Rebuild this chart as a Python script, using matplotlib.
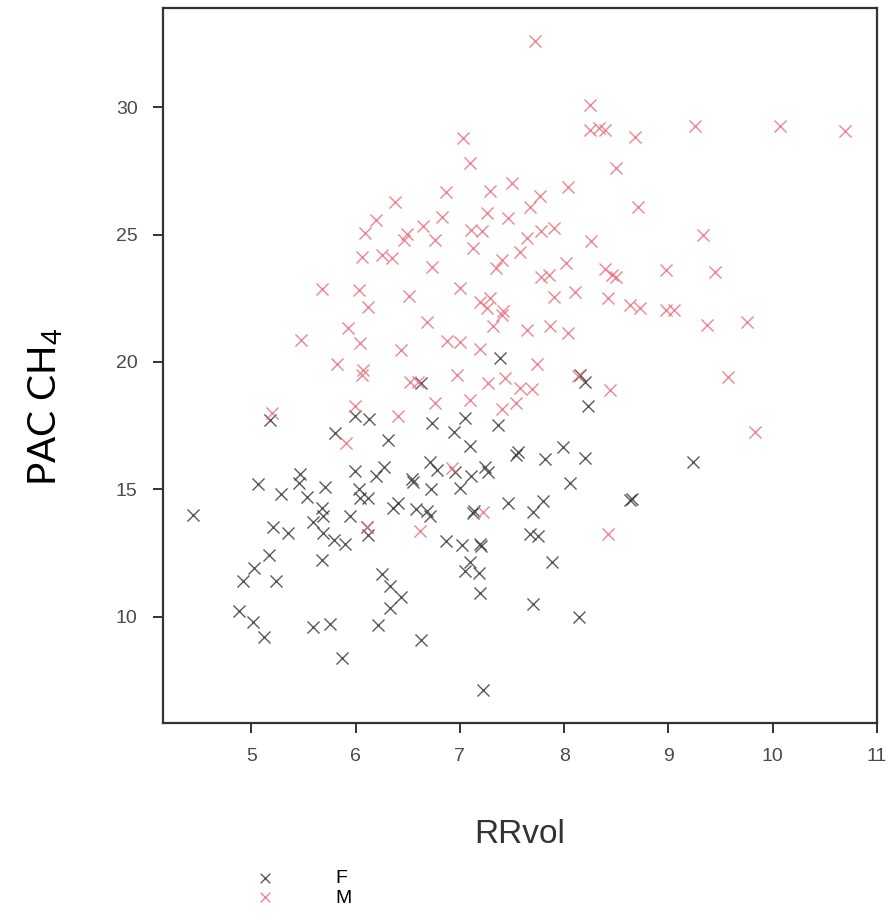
import numpy as np
import matplotlib
matplotlib.use("Agg")
import matplotlib.pyplot as plt

# PAC CH4 against RRvol, split by sex
f_rrvol = [4.44, 5.06, 5.28, 5.47, 5.46, 5.53, 5.71, 6.03, 6.12, 6.04,
           5.68, 5.69, 5.59, 5.21, 5.35, 5.95, 6.11, 6.12, 5.79, 5.90,
           5.69, 6.36, 6.41, 6.58, 6.71, 6.68, 6.72, 6.87, 6.54, 6.55,
           5.17, 5.03, 4.92, 5.24, 5.68, 6.25, 6.33, 6.44, 6.33, 4.88,
           5.02, 5.12, 5.59, 5.75, 6.21, 6.63, 5.87, 5.18, 5.99, 6.13,
           6.63, 6.73, 5.80, 6.31, 6.20, 6.27, 6.71, 6.78, 5.99, 8.15,
           8.20, 8.23, 7.05, 6.94, 7.37, 7.10, 7.54, 7.56, 7.82, 7.99,
           8.20, 6.95, 7.24, 7.27, 7.11, 7.00, 8.06, 8.63, 8.65, 7.46,
           7.70, 7.80, 7.13, 7.14, 7.67, 7.75, 7.02, 7.19, 7.20, 7.10,
           7.05, 7.18, 7.88, 7.19, 7.70, 8.14, 7.22, 7.38, 9.24]
f_pac = [13.99, 15.21, 14.80, 15.60, 15.25, 14.71, 15.10, 15.01, 14.66, 14.66,
         14.26, 13.93, 13.70, 13.52, 13.27, 13.93, 13.53, 13.21, 13.01, 12.84,
         13.27, 14.26, 14.45, 14.23, 13.93, 14.15, 15.01, 12.95, 15.40, 15.29,
         12.42, 11.90, 11.41, 11.41, 12.23, 11.68, 11.18, 10.76, 10.33, 10.20,
         9.80, 9.19, 9.57, 9.70, 9.65, 9.09, 8.37, 17.72, 17.88, 17.76,
         19.16, 17.59, 17.20, 16.94, 15.52, 15.89, 16.07, 15.76, 15.72, 19.49,
         19.23, 18.25, 17.79, 17.26, 17.53, 16.70, 16.35, 16.47, 16.18, 16.66,
         16.22, 15.68, 15.89, 15.69, 15.50, 15.04, 15.25, 14.58, 14.62, 14.45,
         14.12, 14.52, 14.06, 14.15, 13.25, 13.17, 12.82, 12.86, 12.78, 12.16,
         11.77, 11.70, 12.16, 10.92, 10.50, 10.00, 7.10, 20.15, 16.05]

m_rrvol = [7.72, 8.25, 8.25, 8.33, 8.39, 8.68, 9.25, 10.07, 10.69, 7.03,
           7.10, 8.50, 8.04, 7.50, 7.29, 6.87, 7.77, 7.67, 7.26, 7.46,
           8.71, 9.33, 8.26, 7.11, 7.21, 7.78, 7.90, 7.64, 6.83, 6.38,
           6.20, 6.09, 6.49, 6.46, 6.65, 6.76, 6.06, 6.25, 6.35, 6.73,
           5.68, 6.03, 6.12, 6.51, 6.68, 5.48, 5.93, 6.04, 6.44, 5.82,
           6.07, 6.88, 7.00, 7.13, 7.58, 7.40, 7.35, 8.02, 7.78, 7.85,
           8.39, 8.46, 8.50, 8.98, 9.45, 7.00, 7.90, 8.10, 8.42, 8.63,
           8.73, 8.98, 9.05, 7.19, 7.29, 7.26, 7.40, 7.41, 7.32, 7.64,
           7.86, 8.04, 9.37, 9.75, 7.19, 7.74, 9.57, 9.83, 6.97, 7.27,
           7.43, 7.58, 7.69, 7.10, 7.54, 7.40, 8.44, 8.13, 5.20, 5.99,
           6.41, 6.06, 6.52, 6.60, 6.76, 5.91, 6.92, 7.22, 8.42, 6.11,
           6.62]
m_pac = [32.61, 30.09, 29.11, 29.18, 29.11, 28.85, 29.27, 29.27, 29.08, 28.78,
         27.80, 27.61, 26.87, 27.02, 26.71, 26.69, 26.52, 26.07, 25.84, 25.64,
         26.07, 24.99, 24.75, 25.18, 25.14, 25.16, 25.25, 24.86, 25.69, 26.29,
         25.58, 25.05, 25.03, 24.79, 25.34, 24.79, 24.13, 24.20, 24.07, 23.74,
         22.85, 22.83, 22.17, 22.59, 21.58, 20.86, 21.32, 20.73, 20.47, 19.92,
         19.69, 20.82, 20.77, 24.46, 24.33, 24.00, 23.68, 23.88, 23.32, 23.42,
         23.65, 23.42, 23.35, 23.61, 23.55, 22.89, 22.53, 22.76, 22.50, 22.24,
         22.11, 22.04, 22.04, 22.37, 22.50, 22.12, 21.85, 22.00, 21.41, 21.26,
         21.41, 21.13, 21.45, 21.58, 20.51, 19.92, 19.42, 17.26, 19.49, 19.16,
         19.36, 18.98, 18.94, 18.51, 18.38, 18.16, 18.90, 19.45, 17.99, 18.25,
         17.88, 19.49, 19.23, 19.23, 18.38, 16.81, 15.84, 14.12, 13.25, 13.53,
         13.34]

x_ticks = [5, 6, 7, 8, 9, 10, 11]
y_ticks = [10, 15, 20, 25, 30]

plt.rcParams['mathtext.fontset'] = 'custom'
plt.rcParams['mathtext.rm'] = 'Lato'

fig = plt.figure(figsize=(8.91, 9.17), dpi=100)
ax = fig.add_axes([0.1826, 0.2119, 0.8017, 0.7794])

ax.scatter(f_rrvol, f_pac, marker='x', s=75, linewidths=1.0, color='#3c3c3c', alpha=0.85, label='F')
ax.scatter(m_rrvol, m_pac, marker='x', s=75, linewidths=1.0, color='#e8707c', alpha=0.85, label='M')

ax.set_xlim(4.15, 11)
ax.set_ylim(5.83, 33.9)
ax.set_xticks(x_ticks)
ax.set_yticks(y_ticks)
for sp in ax.spines.values():
    sp.set_linewidth(1.6)
    sp.set_color('#333333')
ax.tick_params(direction='out', length=7, width=1.4, color='#333333',
               labelsize=14, labelcolor='#4a4a4a', pad=11)
for lab in ax.get_xticklabels() + ax.get_yticklabels():
    lab.set_family('Liberation Sans')

ax.set_xlabel('RRvol', fontsize=24, family='Liberation Sans', color='#333333')
ax.xaxis.set_label_coords(0.5, -0.135)
ax.set_ylabel('PAC CH$_\\mathrm{4}$', fontsize=28, family='Lato', color='black')
ax.yaxis.set_label_coords(-0.137, 0.442)

fig.legend(loc='upper left', bbox_to_anchor=(0.256, 0.071), frameon=False,
           handletextpad=2.6, labelspacing=0.1, markerscale=0.8,
           prop={'family': 'Liberation Sans', 'size': 14})

fig.savefig('out.png', dpi=100)
